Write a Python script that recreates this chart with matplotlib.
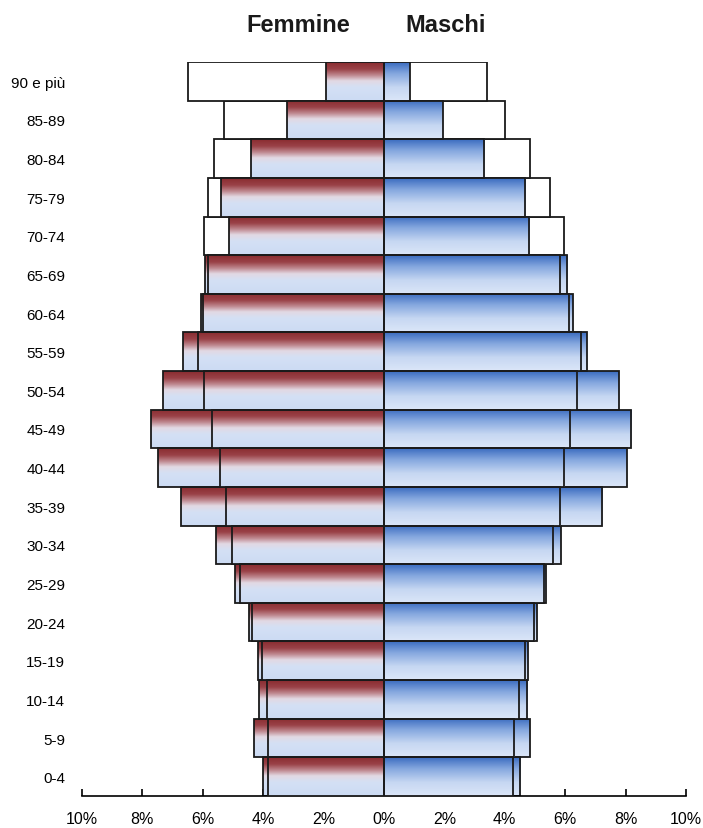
import numpy as np
import matplotlib.pyplot as plt
from matplotlib.colors import LinearSegmentedColormap

# age classes, bottom to top
ages = ["0-4", "5-9", "10-14", "15-19", "20-24", "25-29", "30-34", "35-39",
        "40-44", "45-49", "50-54", "55-59", "60-64", "65-69", "70-74",
        "75-79", "80-84", "85-89", "90 e più"]

# outer bars (wider series)
femmine_a = [4.02, 4.29, 4.13, 4.16, 4.46, 4.92, 5.56, 6.72, 7.49, 7.72,
             7.31, 6.67, 6.06, 5.93, 5.97, 5.82, 5.62, 5.29, 6.50]
maschi_a = [4.51, 4.83, 4.74, 4.76, 5.06, 5.36, 5.86, 7.22, 8.04, 8.18,
            7.77, 6.72, 6.25, 6.06, 5.95, 5.50, 4.85, 4.02, 3.40]

# inner bars
femmine_b = [3.83, 3.85, 3.88, 4.04, 4.38, 4.78, 5.03, 5.23, 5.42, 5.70,
             5.97, 6.17, 6.00, 5.84, 5.12, 5.40, 4.40, 3.21, 1.92]
maschi_b = [4.26, 4.32, 4.46, 4.67, 4.98, 5.29, 5.61, 5.84, 5.97, 6.16,
            6.39, 6.52, 6.14, 5.84, 4.81, 4.67, 3.32, 1.94, 0.86]

xticks = [-10, -8, -6, -4, -2, 0, 2, 4, 6, 8, 10]

# vertical gradients (bottom -> top)
cmap_f = LinearSegmentedColormap.from_list(
    "f", [(0.0, "#ccdbf3"), (0.35, "#d4e0f5"), (0.52, "#e2d9e3"),
          (0.66, "#c08a92"), (0.82, "#9a4248"), (1.0, "#8a2c30")])
cmap_m = LinearSegmentedColormap.from_list(
    "m", [(0.0, "#dbe6f8"), (0.35, "#c6d7f2"), (0.7, "#86a8df"),
          (1.0, "#3b6cc0")])
grad = np.linspace(0, 1, 100).reshape(-1, 1)


def fill_gradient(ax, bars, cmap, white_from=None):
    for i, p in enumerate(bars.patches):
        x0, y0 = p.get_x(), p.get_y()
        w, h = p.get_width(), p.get_height()
        if white_from is not None and i >= white_from:
            p.set_facecolor("white")
            continue
        im = ax.imshow(grad, extent=[x0, x0 + w, y0, y0 + h], origin="lower",
                       aspect="auto", cmap=cmap, vmin=0, vmax=1,
                       zorder=p.get_zorder() - 0.01, interpolation="bilinear")
        im.set_clip_path(p)


fig = plt.figure(figsize=(7.03, 8.29), dpi=100)
ax = fig.add_axes([82 / 703, 32 / 829, 604 / 703, 734 / 829])

y = np.arange(len(ages))
fa = ax.barh(y, -np.array(femmine_a), height=1.0, facecolor="none",
             edgecolor="#1a1a1a", linewidth=1.3, zorder=2)
ma = ax.barh(y, maschi_a, height=1.0, facecolor="none",
             edgecolor="#1a1a1a", linewidth=1.3, zorder=2)
fill_gradient(ax, fa, cmap_f, white_from=14)
fill_gradient(ax, ma, cmap_m, white_from=14)

fb = ax.barh(y, -np.array(femmine_b), height=1.0, facecolor="none",
             edgecolor="#1a1a1a", linewidth=1.3, zorder=4)
mb = ax.barh(y, maschi_b, height=1.0, facecolor="none",
             edgecolor="#1a1a1a", linewidth=1.3, zorder=4)
fill_gradient(ax, fb, cmap_f)
fill_gradient(ax, mb, cmap_m)

ax.set_xlim(-10, 10)
ax.set_ylim(-0.5, len(ages) - 0.5)
ax.set_xticks(xticks)
ax.set_xticklabels([f"{abs(t)}%" for t in xticks], fontsize=11.5,
                   family="Liberation Sans")
ax.set_yticks(y)
ax.set_yticklabels(ages, fontsize=11, family="Liberation Sans")
ax.tick_params(axis="y", length=0, pad=12)
ax.tick_params(axis="x", direction="in", length=5, width=1.2, pad=11)
for s in ["left", "right", "top"]:
    ax.spines[s].set_visible(False)
ax.spines["bottom"].set_linewidth(1.2)

fig.text(298 / 703, 1 - 25 / 829, "Femmine", ha="center", va="center",
         fontsize=17, fontweight="bold", family="Liberation Sans",
         color="#1a1a1a")
fig.text(446 / 703, 1 - 25 / 829, "Maschi", ha="center", va="center",
         fontsize=17, fontweight="bold", family="Liberation Sans",
         color="#1a1a1a")

fig.savefig("out.png", dpi=100)
